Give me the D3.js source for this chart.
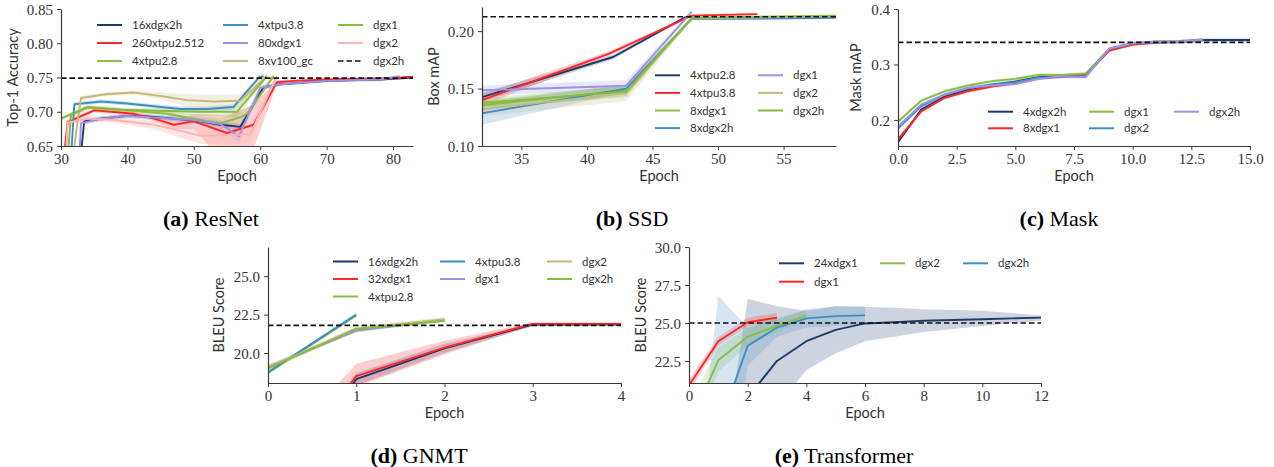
<!DOCTYPE html>
<html><head><meta charset="utf-8">
<script src="https://cdn.jsdelivr.net/npm/d3@7"></script>
<style>
body{margin:0;background:#fff;}
.tick text{font-family:"Liberation Serif",serif;font-size:15px;fill:#333;}
.lab{font-family:Lato,"Open Sans",sans-serif;font-size:14.5px;fill:#333;}
.leg{font-family:Lato,"Open Sans",sans-serif;font-size:11.5px;fill:#333;}
.cap{font-family:"Liberation Serif",serif;font-size:22px;fill:#000;}
</style></head><body>
<svg id="c" width="1274" height="467"></svg>
<script>
// ---------- (a) ResNet : [epoch, value, halfBand] or [epoch, value, lo, hi]
const resnetNames = ["16xdgx2h","260xtpu2.512","4xtpu2.8","4xtpu3.8","80xdgx1","8xv100_gc","dgx1","dgx2","dgx2h"];
const resnet_16xdgx2h = [[32.6,0.60,0.004],[33.5,0.686,0.003],[36,0.690,0.003],[40,0.694,0.003],[43,0.693,0.003],[47,0.690,0.003],[51,0.686,0.003],[54,0.681,0.004],[57,0.678,0.005],[60.5,0.736,0.003],[63,0.740,0.002],[70,0.745,0.002],[78,0.747,0.002],[83,0.750,0.002]];
const resnet_260xtpu2512 = [[30.3,0.62,0.005],[31,0.685,0.004],[35,0.702,0.003],[41,0.697,0.003],[44,0.690,0.004],[47,0.681,0.006],[50,0.686,0.675,0.697],[55,0.669,0.62,0.695],[59,0.681,0.645,0.71],[62.5,0.743,0.003],[65,0.745,0.002],[70,0.747,0.002],[80,0.749,0.002],[83,0.751,0.002]];
const resnet_4xtpu28 = [[30,0.690,0.003],[34,0.707,0.003],[39,0.703,0.003],[46,0.697,0.004],[51,0.688,0.006],[54,0.683,0.008],[57,0.692,0.008],[58,0.697,0.008],[62,0.752,0.003]];
const resnet_4xtpu38 = [[31.3,0.60,0.004],[32,0.711,0.003],[36,0.715,0.003],[40,0.712,0.003],[44,0.708,0.003],[48,0.704,0.004],[52,0.704,0.004],[56,0.707,0.004],[59.8,0.750,0.003],[60.5,0.752,0.003]];
const resnet_80xdgx1 = [[32.6,0.60,0.004],[33,0.683,0.003],[36,0.690,0.003],[40,0.694,0.003],[45,0.691,0.004],[50,0.688,0.005],[54,0.682,0.006],[56.8,0.664,0.01],[60,0.735,0.004],[63,0.740,0.002],[70,0.745,0.002],[78,0.747,0.002],[81,0.752,0.002]];
const resnet_8xv100gc = [[31,0.58,0.005],[33,0.720,0.003],[37,0.726,0.003],[41,0.728,0.003],[45,0.723,0.005],[49,0.717,0.009],[53,0.715,0.01],[57,0.716,0.01],[61,0.752,0.003]];
const resnet_dgx1 = [[30.6,0.58,0.005],[31.5,0.695,0.004],[34,0.706,0.003],[39,0.703,0.003],[46,0.701,0.004],[51,0.700,0.006],[56.5,0.700,0.008],[61,0.752,0.003]];
const resnet_dgx2 = [[30.6,0.60,0.005],[31,0.684,0.004],[34,0.690,0.004],[38,0.688,0.004],[44,0.681,0.006],[48,0.672,0.01],[51,0.665,0.012],[55,0.666,0.014],[58.5,0.667,0.012],[62.5,0.752,0.004]];
const resnetTarget = 0.749;
const resnetXTicks = [30,40,50,60,70,80];
const resnetYTicks = [0.65,0.70,0.75,0.80,0.85];

// ---------- (b) SSD
const ssdNames = ["4xtpu2.8","4xtpu3.8","8xdgx1","8xdgx2h","dgx1","dgx2","dgx2h"];
const ssd_4xtpu28 = [[32,0.1425,0.004],[42,0.1775,0.002],[47.5,0.212,0.001],[48,0.213,0.001]];
const ssd_4xtpu38 = [[32,0.140,0.005],[41.7,0.1805,0.002],[48,0.2135,0.001],[53,0.2148,0.001]];
const ssd_8xdgx1 = [[32,0.1355,0.004],[43,0.1485,0.005],[48,0.2115,0.001],[59,0.2125,0.001]];
const ssd_8xdgx2h = [[32,0.1285,0.010],[43,0.1500,0.003],[48,0.2105,0.001],[59,0.2115,0.001]];
const ssd_dgx1 = [[32,0.1485,0.004],[43,0.1525,0.005],[48,0.217,0.001]];
const ssd_dgx2 = [[32,0.1320,0.006],[43,0.1460,0.007],[48,0.2110,0.001],[59,0.2130,0.001]];
const ssd_dgx2h = [[32,0.1375,0.004],[43,0.1475,0.005],[48,0.2115,0.001],[59,0.2135,0.001]];
const ssdTarget = 0.2125;
const ssdXTicks = [35,40,45,50,55];
const ssdYTicks = [0.10,0.15,0.20];

// ---------- (c) Mask (epochs 0,1,2,...)
const maskNames = ["4xdgx2h","8xdgx1","dgx1","dgx2","dgx2h"];
const mask_4xdgx2h = [0.160,0.219,0.242,0.255,0.263,0.269,0.277,0.279,0.280,0.327,0.337,0.340,0.341,0.344,0.344,0.344];
const mask_8xdgx1 = [0.165,0.216,0.240,0.252,0.260,0.266,0.275,0.278,0.281,0.325,0.336,0.340,0.341,0.344];
const mask_dgx1 = [0.197,0.235,0.252,0.262,0.270,0.274,0.281,0.281,0.284,0.328,0.338,0.341,0.341,0.344];
const mask_dgx2 = [0.185,0.225,0.246,0.257,0.264,0.268,0.276,0.278,0.279,0.328,0.338,0.340,0.341,0.344];
const mask_dgx2h = [0.188,0.228,0.246,0.258,0.262,0.265,0.274,0.279,0.277,0.329,0.338,0.341,0.341,0.345];
const maskTarget = 0.340;
const maskXTicks = [0,2.5,5,7.5,10,12.5,15];
const maskYTicks = [0.2,0.3,0.4];

// ---------- (d) GNMT
const gnmtNames = ["16xdgx2h","32xdgx1","4xtpu2.8","4xtpu3.8","dgx1","dgx2","dgx2h"];
const gnmt_16xdgx2h = [[0,10.0,9,11],[1,18.3,17.9,18.7],[2,20.3,20.0,20.6],[3,21.85,21.75,21.95],[4,21.85,21.8,21.95]];
const gnmt_32xdgx1 = [[0,10.5,8,13],[1,18.5,17.8,19.3],[2,20.35,19.9,20.8],[3,21.9,21.8,22.0],[4,21.9,21.8,22.0]];
const gnmt_4xtpu28 = [[0,18.7,0.1],[1,22.45,0.1]];
const gnmt_4xtpu38 = [[0,18.75,0.1],[1,22.5,0.1]];
const gnmt_dgx1 = [[0,19.1,0.15],[1,21.45,0.12],[2,22.15,0.12]];
const gnmt_dgx2 = [[0,19.05,0.2],[1,21.6,0.15],[2,22.2,0.15]];
const gnmt_dgx2h = [[0,19.0,0.12],[1,21.55,0.1],[2,22.1,0.1]];
const gnmtTarget = 21.8;
const gnmtXTicks = [0,1,2,3,4];
const gnmtYTicks = [20.0,22.5,25.0];

// ---------- (e) Transformer
const transNames = ["24xdgx1","dgx1","dgx2","dgx2h"];
const trans_24xdgx1 = [[1,17.5,8,13.7],[2,20.1,14,26.6],[3,22.5,19.5,26.1],[4,23.8,21.9,25.8],[5,24.55,23.0,26.1],[6,24.97,23.8,26.05],[7,25.05,24.1,26.0],[8,25.15,24.4,25.9],[9,25.2,24.6,25.85],[10,25.25,24.8,25.8],[11,25.3,25.0,25.65],[12,25.35,25.15,25.5]];
const trans_dgx1 = [[0,20.9,20.5,21.3],[1,23.8,23.5,24.1],[2,25.05,24.8,25.35],[3,25.35,25.1,25.65]];
const trans_dgx2 = [[0,18.2,17,19.5],[1,22.55,21.8,23.4],[2,24.1,23.5,24.7],[3,24.8,24.4,25.2],[4,25.5,25.2,25.85]];
const trans_dgx2h = [[0,5,0,9.9],[1,18.0,9,26.8],[2,23.5,22.2,24.7],[3,24.7,24.1,25.3],[4,25.3,24.7,25.9],[5,25.45,24.8,26.1],[6,25.5,24.9,26.1]];
const transTarget = 25.0;
const transXTicks = [0,2,4,6,8,10,12];
const transYTicks = [22.5,25.0,27.5,30.0];

// ---------- styles
const COL = {navy:"#1d3a6c", red:"#ff2626", green:"#8abd45", blue:"#3f8fc5", lav:"#9d93e6", khaki:"#c5b87b", pink:"#ffb4b4"};
const idx = a => a.map((v,i)=>[i,v,0.003]);

const svg = d3.select("#c");
const defs = svg.append("defs");

function norm(p){ return p.length===4 ? {x:p[0],y:p[1],lo:p[2],hi:p[3]} : {x:p[0],y:p[1],lo:p[1]-p[2],hi:p[1]+p[2]}; }

function legendLayout(n, ncol){
  const nrows = Math.ceil(n/ncol), large = n % ncol === 0 ? ncol : n % ncol;
  const out=[]; let k=0;
  for(let c=0;c<ncol;c++){ const rows = c<large?nrows:nrows-1; for(let r=0;r<rows;r++){ if(k<n) out.push({c,r}); k++; } }
  return out;
}

function panel(cfg){
  const x = d3.scaleLinear().domain(cfg.xDomain).range([cfg.left,cfg.right]);
  const y = d3.scaleLinear().domain(cfg.yDomain).range([cfg.bottom,cfg.top]);
  const cid = "clip"+cfg.id;
  defs.append("clipPath").attr("id",cid).append("rect")
    .attr("x",cfg.left).attr("y",cfg.top-1).attr("width",cfg.right-cfg.left).attr("height",cfg.bottom-cfg.top+1);
  const plot = svg.append("g").attr("clip-path",`url(#${cid})`);
  const area = d3.area().x(d=>x(d.x)).y0(d=>y(d.lo)).y1(d=>y(d.hi));
  const line = d3.line().x(d=>x(d.x)).y(d=>y(d.y));
  cfg.series.forEach(s=>{
    const pts = s.data.map(norm);
    plot.append("path").attr("d",area(pts)).attr("fill",s.color).attr("fill-opacity",s.bandOp||0.22).attr("stroke","none");
  });
  cfg.series.forEach(s=>{
    const pts = s.data.map(norm);
    plot.append("path").attr("d",line(pts)).attr("fill","none").attr("stroke",s.color).attr("stroke-width",1.9).attr("stroke-linejoin","round");
  });
  plot.append("line").attr("x1",cfg.left).attr("x2",cfg.right).attr("y1",y(cfg.target)).attr("y2",y(cfg.target))
    .attr("stroke","#111").attr("stroke-width",1.7).attr("stroke-dasharray","5.5,3");
  // axes
  const ax = svg.append("g").attr("transform",`translate(0,${cfg.bottom})`)
    .call(d3.axisBottom(x).tickValues(cfg.xTicks).tickFormat(d3.format(cfg.xFmt)).tickSize(4).tickSizeOuter(0).tickPadding(3));
  const ay = svg.append("g").attr("transform",`translate(${cfg.left},0)`)
    .call(d3.axisLeft(y).tickValues(cfg.yTicks).tickFormat(d3.format(cfg.yFmt)).tickSize(4).tickSizeOuter(0).tickPadding(4));
  [ax,ay].forEach(a=>{ a.select(".domain").attr("stroke","#3a3a3a").attr("stroke-width",1.2);
    a.selectAll(".tick line").attr("stroke","#3a3a3a").attr("stroke-width",1);
    a.selectAll(".tick text").attr("font-family",null).attr("font-size",null); });
  ay.selectAll(".tick text").attr("dy","0.34em");
  svg.append("text").attr("class","lab").attr("x",(cfg.left+cfg.right)/2).attr("y",cfg.bottom+35).attr("text-anchor","middle").text("Epoch");
  svg.append("text").attr("class","lab").attr("text-anchor","middle")
    .attr("transform",`translate(${cfg.ylabX},${(cfg.top+cfg.bottom)/2}) rotate(-90)`).text(cfg.ylabel);
  // legend
  let items = cfg.series.map(s=>({name:s.name,color:s.color,dash:false}));
  if(cfg.targetName) items = items.concat([{name:cfg.targetName,color:"#111",dash:true}]);
  const lay = legendLayout(items.length, cfg.legend.cols.length);
  items.forEach((it,i)=>{
    const lx = cfg.legend.cols[lay[i].c], ly = cfg.legend.y0 + lay[i].r*cfg.legend.dy;
    svg.append("line").attr("x1",lx).attr("x2",lx+25).attr("y1",ly).attr("y2",ly).attr("stroke",it.color)
      .attr("stroke-width",it.dash?1.7:2).attr("stroke-dasharray",it.dash?"5.5,3":null);
    svg.append("text").attr("class","leg").attr("x",lx+35).attr("y",ly+4).text(it.name);
  });
  // caption
  const cap = svg.append("text").attr("class","cap").attr("x",cfg.capX).attr("y",cfg.capY).attr("text-anchor","middle");
  cap.append("tspan").attr("font-weight","bold").text(cfg.capLetter);
  cap.append("tspan").text(" "+cfg.capText);
}

panel({id:"a", left:61,right:413,top:9,bottom:146, xDomain:[30,83], yDomain:[0.65,0.85],
  xTicks:resnetXTicks, yTicks:resnetYTicks, xFmt:"d", yFmt:".2f", target:resnetTarget, targetName:resnetNames[8],
  ylabel:"Top-1 Accuracy", ylabX:18,
  series:[
    {name:resnetNames[0],color:COL.navy,data:resnet_16xdgx2h},
    {name:resnetNames[1],color:COL.red,data:resnet_260xtpu2512},
    {name:resnetNames[2],color:COL.green,data:resnet_4xtpu28},
    {name:resnetNames[3],color:COL.blue,data:resnet_4xtpu38},
    {name:resnetNames[4],color:COL.lav,data:resnet_80xdgx1},
    {name:resnetNames[5],color:COL.khaki,data:resnet_8xv100gc},
    {name:resnetNames[6],color:"#86bb3e",data:resnet_dgx1},
    {name:resnetNames[7],color:COL.pink,data:resnet_dgx2,bandOp:0.35}],
  legend:{cols:[97,223,338], y0:25, dy:18},
  capX:211, capY:226, capLetter:"(a)", capText:"ResNet"});

panel({id:"b", left:482,right:836,top:7,bottom:146, xDomain:[32,59], yDomain:[0.10,0.221],
  xTicks:ssdXTicks, yTicks:ssdYTicks, xFmt:"d", yFmt:".2f", target:ssdTarget, targetName:null,
  ylabel:"Box mAP", ylabX:439,
  series:[
    {name:ssdNames[0],color:COL.navy,data:ssd_4xtpu28},
    {name:ssdNames[1],color:COL.red,data:ssd_4xtpu38},
    {name:ssdNames[2],color:COL.green,data:ssd_8xdgx1},
    {name:ssdNames[3],color:COL.blue,data:ssd_8xdgx2h},
    {name:ssdNames[4],color:COL.lav,data:ssd_dgx1},
    {name:ssdNames[5],color:COL.khaki,data:ssd_dgx2},
    {name:ssdNames[6],color:"#86bb3e",data:ssd_dgx2h}],
  legend:{cols:[655,758], y0:75.3, dy:17.6},
  capX:632, capY:226, capLetter:"(b)", capText:"SSD"});

panel({id:"c", left:898,right:1250,top:9,bottom:146, xDomain:[0,15], yDomain:[0.153,0.4],
  xTicks:maskXTicks, yTicks:maskYTicks, xFmt:".1f", yFmt:".1f", target:maskTarget, targetName:null,
  ylabel:"Mask mAP", ylabX:861,
  series:[
    {name:maskNames[0],color:COL.navy,data:idx(mask_4xdgx2h)},
    {name:maskNames[1],color:COL.red,data:idx(mask_8xdgx1)},
    {name:maskNames[2],color:COL.green,data:idx(mask_dgx1)},
    {name:maskNames[3],color:COL.blue,data:idx(mask_dgx2)},
    {name:maskNames[4],color:COL.lav,data:idx(mask_dgx2h)}],
  legend:{cols:[988,1089,1174], y0:111.7, dy:16.6},
  capX:1059, capY:226, capLetter:"(c)", capText:"Mask"});

panel({id:"d", left:268,right:621,top:247,bottom:383, xDomain:[0,4], yDomain:[18.05,26.9],
  xTicks:gnmtXTicks, yTicks:gnmtYTicks, xFmt:"d", yFmt:".1f", target:gnmtTarget, targetName:null,
  ylabel:"BLEU Score", ylabX:224,
  series:[
    {name:gnmtNames[0],color:COL.navy,data:gnmt_16xdgx2h},
    {name:gnmtNames[1],color:COL.red,data:gnmt_32xdgx1},
    {name:gnmtNames[2],color:COL.green,data:gnmt_4xtpu28},
    {name:gnmtNames[3],color:COL.blue,data:gnmt_4xtpu38},
    {name:gnmtNames[4],color:COL.lav,data:gnmt_dgx1},
    {name:gnmtNames[5],color:COL.khaki,data:gnmt_dgx2},
    {name:gnmtNames[6],color:"#86bb3e",data:gnmt_dgx2h}],
  legend:{cols:[333,440,547], y0:261.5, dy:17.5},
  capX:419, capY:463, capLetter:"(d)", capText:"GNMT"});

panel({id:"e", left:689,right:1041,top:247,bottom:383, xDomain:[0,12], yDomain:[21.05,30],
  xTicks:transXTicks, yTicks:transYTicks, xFmt:"d", yFmt:".1f", target:transTarget, targetName:null,
  ylabel:"BLEU Score", ylabX:646,
  series:[
    {name:transNames[0],color:COL.navy,data:trans_24xdgx1},
    {name:transNames[1],color:COL.red,data:trans_dgx1},
    {name:transNames[2],color:COL.green,data:trans_dgx2},
    {name:transNames[3],color:COL.blue,data:trans_dgx2h}],
  legend:{cols:[779,880,963], y0:263.3, dy:18.4},
  capX:844, capY:463, capLetter:"(e)", capText:"Transformer"});
</script></body></html>
